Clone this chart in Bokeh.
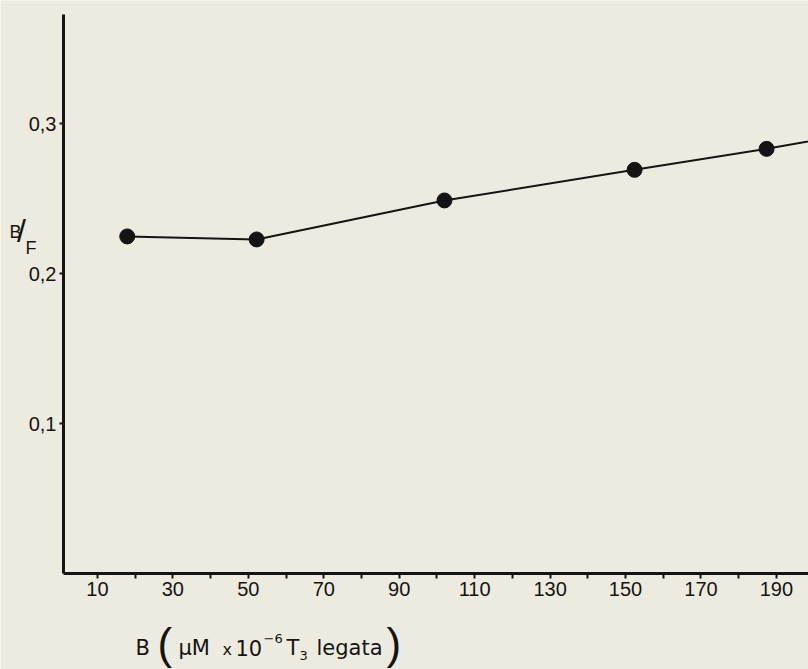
from bokeh.plotting import figure
from bokeh.models import FixedTicker, Range1d, Label
from bokeh.embed import file_html
from bokeh.resources import INLINE

# ---- data ----
x_vals = [17.9, 52.2, 102.0, 152.4, 187.4, 206.0]
y_vals = [0.2247, 0.2227, 0.2487, 0.2691, 0.2831, 0.2915]

x_ticks = [10, 20, 30, 40, 50, 60, 70, 80, 90, 100, 110, 120, 130, 140, 150, 160, 170, 180, 190]
x_tick_labels = ["10", "", "30", "", "50", "", "70", "", "90", "", "110", "", "130", "", "150", "", "170", "", "190"]
y_ticks = [0.1, 0.2, 0.3]
y_tick_labels = ["0,1", "0,2", "0,3"]

x_axis_start = 1.0      # where the drawn axes meet
x_axis_end = 198.5
y_axis_top = 0.3727

BG = "#EDEBE0"
INK = "#141414"
TICK_FONT = "Liberation Sans"
LABEL_FONT = "DejaVu Sans"
PAREN_FONT = "Liberation Sans"

W, H = 808, 669
# frame covers whole canvas; axes are placed at fixed data locations
p = figure(width=W, height=H, output_backend="svg", toolbar_location=None,
           x_range=Range1d(-15.70, 198.51), y_range=Range1d(-0.064, 0.382),
           min_border=0, min_border_left=0, min_border_right=0,
           min_border_top=0, min_border_bottom=0)
p.background_fill_color = BG
p.border_fill_color = BG
p.outline_line_color = None
p.grid.visible = False

p.line(x_vals, y_vals, line_color=INK, line_width=2)
p.scatter(x_vals, y_vals, size=15, fill_color=INK, line_color=INK)

# x axis
xa = p.xaxis[0]
xa.fixed_location = 0.0
xa.bounds = (x_axis_start, x_axis_end)
xa.ticker = FixedTicker(ticks=x_ticks)
xa.major_label_overrides = {t: l for t, l in zip(x_ticks, x_tick_labels)}
xa.minor_tick_line_color = None
xa.axis_line_width = 3
xa.axis_line_color = INK
xa.major_tick_line_color = INK
xa.major_tick_line_width = 2
xa.major_tick_out = 5
xa.major_tick_in = 0
xa.major_label_text_font = TICK_FONT
xa.major_label_text_font_size = "20px"
xa.major_label_text_color = INK
xa.major_label_standoff = 3

# y axis
ya = p.yaxis[0]
ya.fixed_location = x_axis_start
ya.bounds = (0.0, y_axis_top)
ya.ticker = FixedTicker(ticks=y_ticks)
ya.major_label_overrides = {t: l for t, l in zip(y_ticks, y_tick_labels)}
ya.minor_tick_line_color = None
ya.axis_line_width = 3
ya.axis_line_color = INK
ya.major_tick_line_color = INK
ya.major_tick_line_width = 2
ya.major_tick_out = 4
ya.major_tick_in = 0
ya.major_label_text_font = TICK_FONT
ya.major_label_text_font_size = "20px"
ya.major_label_text_color = INK
ya.major_label_standoff = 3


def lab(text, x, y, size, align="left", baseline="alphabetic", font=LABEL_FONT):
    # screen units: x from left edge, y (given from the top) converted to bottom-based;
    # a size-proportional correction compensates the measured baseline offset
    corr = round(0.32 * size)
    p.add_layout(Label(x=x, y=H - y + corr, x_units="screen", y_units="screen", text=text,
                       text_font=font, text_font_size=f"{size}px", text_color=INK,
                       text_align=align, text_baseline=baseline))


# y label "B/F"
lab("B", 9, 237, 18, font=PAREN_FONT)
lab("/", 21, 240, 32, align="center", baseline="middle", font=PAREN_FONT)
lab("F", 25, 253, 18, font=PAREN_FONT)

# x label pieces (y given as baseline, from the top of the page)
BASE = 654
lab("B", 135, BASE, 21)
lab("(", 157, BASE + 3, 44, font=PAREN_FONT)
lab("μM", 178, BASE, 21)
lab("x", 222, BASE, 16)
lab("10", 235, BASE, 21)
lab("−6", 263, BASE - 12, 13)
lab("T", 286, BASE, 21)
lab("3", 299, BASE + 5, 13)
lab("legata", 316, BASE, 21)
lab(")", 386, BASE + 3, 44, font=PAREN_FONT)

open("out.html", "w").write(file_html(p, INLINE))
